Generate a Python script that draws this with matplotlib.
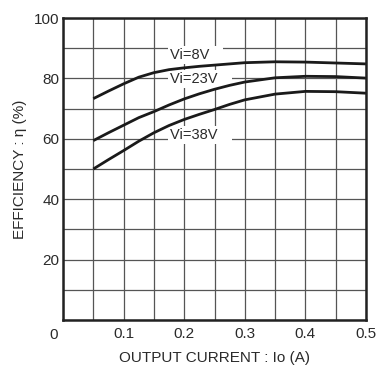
import numpy as np
import matplotlib
matplotlib.use('Agg')
import matplotlib.pyplot as plt

plt.rcParams['font.family'] = ['Liberation Sans', 'DejaVu Sans']

# output current (A)
current = [0.05, 0.075, 0.10, 0.125, 0.15, 0.175, 0.20, 0.225, 0.25, 0.275,
           0.30, 0.35, 0.40, 0.45, 0.50]
# efficiency (%) for each input voltage
eff_8v = [73.3, 75.8, 78.2, 80.4, 81.9, 82.9, 83.5, 84.0, 84.4, 84.8,
          85.2, 85.5, 85.4, 85.1, 84.8]
eff_23v = [59.4, 62.0, 64.5, 67.0, 69.0, 71.2, 73.2, 74.9, 76.4, 77.7,
           78.8, 80.2, 80.7, 80.6, 80.1]
eff_38v = [50.0, 53.1, 56.1, 59.2, 62.0, 64.4, 66.4, 68.1, 69.7, 71.4,
           72.9, 74.8, 75.7, 75.6, 75.1]

labels = ['Vi=8V', 'Vi=23V', 'Vi=38V']
label_y = [87.8, 79.8, 61.3]
label_x = 0.176

fig = plt.figure(figsize=(3.79, 3.67), dpi=100)
ax = fig.add_axes([63/379, 1 - 320/367, 303/379, 302/367])

for eff in [eff_8v, eff_23v, eff_38v]:
    ax.plot(current, eff, color='#1a1a1a', lw=2.0, solid_capstyle='butt',
            solid_joinstyle='round', zorder=5)

# white boxes behind the curve labels hide the grid
for txt, yy in zip(labels, label_y):
    ax.text(label_x, yy, txt + '   ', fontsize=10.5, va='center', ha='left',
            color='#2a2a2a', zorder=4,
            bbox=dict(facecolor='white', edgecolor='none', pad=1.5))

ax.set_xlim(0, 0.5)
ax.set_ylim(0, 100)
ax.set_xticks(np.arange(0, 0.501, 0.05))
ax.set_yticks(np.arange(0, 101, 10))
ax.set_xticklabels(['' if i % 2 or i == 0 else f'{i*0.05:.1f}' for i in range(11)])
ax.set_yticklabels(['' if i % 2 or i == 0 else str(i * 10) for i in range(11)])
ax.tick_params(length=0, labelsize=11, colors='#2a2a2a')
ax.tick_params(axis='x', pad=5)
ax.tick_params(axis='y', pad=2.5)
ax.text(-0.018, -0.026, '0', transform=ax.transAxes, ha='right', va='top',
        fontsize=11, color='#2a2a2a')
ax.grid(True, color='#555555', lw=0.9)
for s in ax.spines.values():
    s.set_linewidth(1.8)
    s.set_color('#222222')
    s.set_zorder(6)

ax.set_xlabel('OUTPUT CURRENT : Io (A)', fontsize=11, color='#2a2a2a', labelpad=7)
ax.set_ylabel('EFFICIENCY : η (%)', fontsize=11, color='#2a2a2a', labelpad=5)

fig.savefig('out.png', dpi=100)
